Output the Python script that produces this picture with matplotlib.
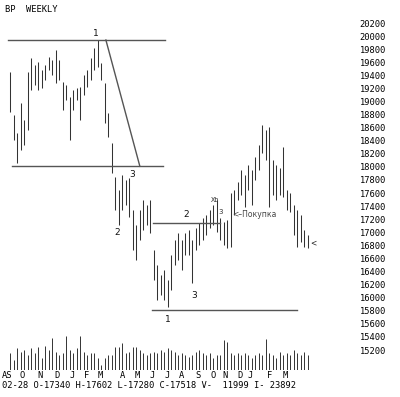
import numpy as np
import matplotlib
matplotlib.use("Agg")
import matplotlib.pyplot as plt

# ── Data (weekly bars, BP futures) ───────────────────────────────────
HIGHS = [19450, 18790, 18520, 18980, 18720, 19450, 19670, 19560, 19600, 19480,
         19560, 19680, 19640, 19790, 19640, 19300, 19250, 19070, 19180, 19210,
         19220, 19410, 19480, 19670, 19820, 19940, 19590, 19280, 18820, 18370,
         17850, 17650, 17880, 17800, 17830, 17340, 17110, 17340, 17490, 17420,
         17490, 16730, 16500, 16350, 16420, 16270, 16650, 16880, 16990, 16880,
         16990, 17040, 16880, 17070, 17140, 17220, 17270, 17340, 17420, 17490,
         17220, 17160, 17190, 17600, 17650, 17770, 17950, 17880, 18030, 17950,
         18150, 18340, 18640, 18560, 18610, 18110, 18030, 17980, 18300, 17650,
         17600, 17420, 17340, 17270, 17040, 16960]
LOWS = [18840, 18410, 18060, 18260, 18340, 18560, 19180, 19250, 19180, 19210,
        19330, 19480, 19410, 19280, 19330, 18870, 19020, 18410, 18870, 19020,
        18720, 19100, 19220, 19330, 19480, 19530, 19330, 18670, 18460, 17910,
        17340, 17110, 17340, 17420, 17230, 16730, 16580, 16880, 17040, 17110,
        16990, 16270, 15970, 16040, 15970, 15860, 16120, 16500, 16580, 16420,
        16650, 16650, 16220, 16730, 16810, 16880, 16960, 17070, 17110, 17000,
        16880, 16810, 16760, 16780, 17270, 17490, 17570, 17390, 17650, 17420,
        17800, 17950, 18210, 18110, 17390, 17570, 17490, 17570, 17540, 17340,
        17310, 16960, 16780, 16850, 16780, 16760]
VOLUME = [17, 10, 22, 18, 20, 15, 22, 17, 23, 12,
          24, 20, 32, 18, 15, 17, 34, 20, 17, 22,
          34, 18, 15, 17, 17, 12, 5, 12, 15, 15,
          23, 23, 27, 17, 18, 23, 23, 20, 17, 15,
          17, 18, 17, 20, 18, 22, 20, 18, 15, 17,
          15, 13, 15, 18, 20, 17, 15, 17, 12, 15,
          15, 30, 28, 17, 15, 17, 15, 17, 15, 12,
          15, 17, 15, 31, 17, 15, 12, 18, 15, 17,
          15, 20, 17, 15, 18, 15]

PRICE_TICKS = list(range(15200, 20400, 200))
MONTHS      = ["AS", "O", "N", "D", "J", "F", "M", "A", "M", "J",
               "J", "A", "S", "O", "N", "D", "J", "F", "M"]
MONTH_POS   = [-0.9, 3.4, 8.6, 13.4, 17.7, 22.0, 25.7, 32.0, 36.3, 40.6,
               44.9, 49.1, 53.7, 58.0, 61.4, 65.7, 68.6, 74.3, 78.6]

# trend lines: (x0, x1, y0, y1) in bar index / price
LINES = [(-0.6, 44.3, 19940, 19940),
         (0.6, 43.7, 18010, 18010),
         (27.4, 37.1, 19940, 18010),
         (40.9, 60.0, 17140, 17140),
         (40.6, 82.0, 15810, 15810)]
LABELS = [(24.6, 20040, "1"), (34.9, 17880, "3"), (30.6, 17000, "2"),
          (50.3, 17265, "2"), (45.1, 15660, "1"), (52.6, 16040, "3")]

FOOTER = "02-28 O-17340 H-17602 L-17280 C-17518 V-  11999 I- 23892"
MONO = "DejaVu Sans Mono"
INK = "#333333"

# ── Figure ───────────────────────────────────────────────────────────
W, H = 400, 397
fig = plt.figure(figsize=(W / 100, H / 100), dpi=100)
fig.patch.set_facecolor("white")

ax = fig.add_axes([0, 0, 350 / W, 1])
ax.set_xlim(-10 / 3.5, 340 / 3.5)
ax.set_ylim(14482, 20552)
for s in ax.spines.values():
    s.set_visible(False)

x = np.arange(len(HIGHS))
ax.vlines(x, LOWS, HIGHS, color=INK, linewidth=0.75)

for x0, x1, y0, y1 in LINES:
    ax.plot([x0, x1], [y0, y1], color="#555", linewidth=1.0)
for lx, ly, t in LABELS:
    ax.text(lx, ly, t, ha="center", va="center", fontsize=6.5, color="#111")

ax.text(58.6, 17494, "Xb", ha="center", va="center", fontsize=5, family=MONO, color="#333")
ax.text(60.3, 17311, "3", ha="center", va="center", fontsize=5, color="#333")
ax.text(63.4, 17265, "<\u2013Покупка", ha="left", va="center", fontsize=5.5, color="#444")
ax.text(85.7, 16837, "<", ha="left", va="center", fontsize=5.5, color="#222")

ax.set_xticks([])
ax.yaxis.tick_right()
ax.set_yticks(PRICE_TICKS)
ax.set_yticklabels([str(p) for p in PRICE_TICKS], family=MONO, fontsize=6.3)
ax.tick_params(axis="y", length=0, pad=7)

# ── Volume panel ─────────────────────────────────────────────────────
vax = fig.add_axes([0, (H - 370) / H, 350 / W, 40 / H])
vax.set_xlim(ax.get_xlim())
vax.set_ylim(0, 40)
vax.patch.set_alpha(0)
for s in vax.spines.values():
    s.set_visible(False)
vax.vlines(np.arange(len(VOLUME)), 0, VOLUME, color=INK, linewidth=0.7)
vax.set_yticks([])
vax.set_xticks(MONTH_POS)
vax.set_xticklabels(MONTHS, family=MONO, fontsize=6.3)
vax.tick_params(axis="x", length=0, pad=1)

fig.text(5 / W, 1 - 10 / H, "BP  WEEKLY", family=MONO, fontsize=6.3, va="center")
fig.text(2 / W, 1 - 386 / H, FOOTER, family=MONO, fontsize=6.3, va="center")

fig.savefig("out.png", dpi=100, facecolor="white")
